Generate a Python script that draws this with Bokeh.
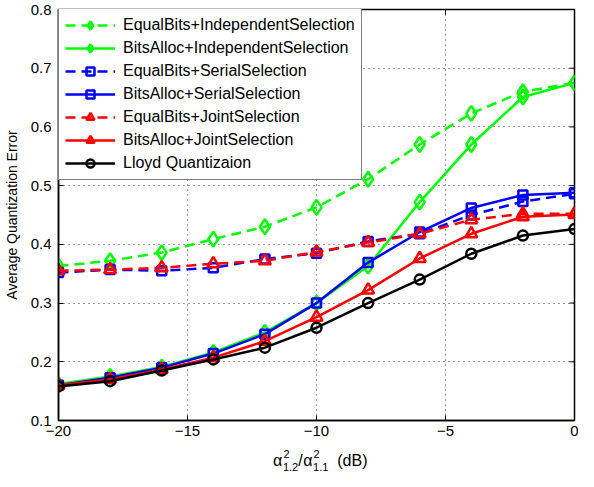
import math
from bokeh.plotting import figure
from bokeh.layouts import column
from bokeh.models import Range1d, FixedTicker, Legend, LegendItem
from bokeh.core.properties import value
from bokeh.embed import file_html
from bokeh.resources import INLINE

# ---- data ----
x_db = [-20, -18, -16, -14, -12, -10, -8, -6, -4, -2, 0]
equal_indep = [0.363, 0.372, 0.386, 0.409, 0.430, 0.463, 0.511, 0.570, 0.623, 0.660, 0.675]
alloc_indep = [0.162, 0.175, 0.191, 0.216, 0.250, 0.300, 0.363, 0.472, 0.570, 0.651, 0.675]
equal_serial = [0.352, 0.357, 0.355, 0.360, 0.375, 0.385, 0.405, 0.418, 0.450, 0.473, 0.486]
alloc_serial = [0.160, 0.173, 0.190, 0.214, 0.247, 0.300, 0.369, 0.421, 0.462, 0.484, 0.488]
equal_joint = [0.355, 0.357, 0.360, 0.367, 0.372, 0.387, 0.403, 0.418, 0.442, 0.452, 0.452]
alloc_joint = [0.160, 0.170, 0.187, 0.207, 0.235, 0.276, 0.322, 0.376, 0.418, 0.447, 0.451]
lloyd = [0.158, 0.167, 0.185, 0.204, 0.224, 0.258, 0.300, 0.340, 0.384, 0.415, 0.426]

x_ticks = [-20, -15, -10, -5, 0]
x_tick_labels = ["\u221220", "\u221215", "\u221210", "\u22125", "0"]
y_ticks = [0.1, 0.2, 0.3, 0.4, 0.5, 0.6, 0.7, 0.8]

series = [
    ("EqualBits+IndependentSelection", equal_indep, "#00ff00", "dashed", "diamond"),
    ("BitsAlloc+IndependentSelection", alloc_indep, "#00ff00", "solid", "diamond"),
    ("EqualBits+SerialSelection", equal_serial, "#0000ff", "dashed", "square"),
    ("BitsAlloc+SerialSelection", alloc_serial, "#0000ff", "solid", "square"),
    ("EqualBits+JointSelection", equal_joint, "#ff0000", "dashed", "triangle"),
    ("BitsAlloc+JointSelection", alloc_joint, "#ff0000", "solid", "triangle"),
    ("Lloyd Quantizaion", lloyd, "#000000", "solid", "circle"),
]
marker_size = {"diamond": 15, "square": 9, "triangle": 12, "circle": 10}

FONT = "Liberation Sans"
W = 578
BL, BR = 52, 4
BT, FRAME_H, BB = 9, 411, 22
H1 = BT + FRAME_H + BB          # main figure height
H2 = 471 - H1                   # strip holding the x-axis title
X0, X1, Y0, Y1 = -20, 0, 0.1, 0.8

p = figure(width=W, height=H1, output_backend="svg", toolbar_location=None,
           x_range=Range1d(X0, X1), y_range=Range1d(Y0, Y1),
           min_border_left=BL, min_border_right=BR, min_border_top=BT,
           min_border_bottom=BB, background_fill_color="white",
           border_fill_color="white")
p.outline_line_color = "black"
p.outline_line_width = 1.5

xt = FixedTicker(ticks=x_ticks)
yt = FixedTicker(ticks=y_ticks)

for ax in (p.xaxis[0], p.yaxis[0]):
    ax.major_tick_in = 5
    ax.major_tick_out = 0
    ax.minor_tick_line_color = None
    ax.axis_line_color = "black"
    ax.axis_line_width = 1.5
    ax.major_tick_line_width = 1
    ax.major_label_text_font = FONT
    ax.major_label_text_font_size = "15px"
    ax.major_label_text_color = "black"
    ax.major_label_standoff = 7

p.xaxis[0].ticker = xt
p.xaxis[0].major_label_overrides = dict(zip(x_ticks, x_tick_labels))
p.xaxis[0].major_label_standoff = 5
p.yaxis[0].ticker = yt
p.yaxis[0].axis_label = "Average Quantization Error"
p.yaxis[0].axis_label_text_font = FONT
p.yaxis[0].axis_label_text_font_size = "14px"
p.yaxis[0].axis_label_text_font_style = "normal"
p.yaxis[0].axis_label_text_color = "black"
p.yaxis[0].axis_label_standoff = 8

for g, tk in ((p.xgrid[0], xt), (p.ygrid[0], yt)):
    g.ticker = tk
    g.grid_line_color = "#333333"
    g.grid_line_dash = "1 4"
    g.grid_line_width = 1

# inward ticks on the top and right edges of the box
p.scatter(x_ticks, [Y1] * len(x_ticks), marker="dash", angle=math.pi / 2,
          size=10, line_color="black", line_width=1)
p.scatter([X1] * len(y_ticks), y_ticks, marker="dash", size=10,
          line_color="black", line_width=1)

items = []
for name, ys, col, dash, mk in series:
    r1 = p.line(x_db, ys, line_color=col, line_width=2.5,
                line_dash=("10 6" if dash == "dashed" else "solid"))
    r2 = p.scatter(x_db, ys, marker=mk, size=marker_size[mk], fill_color=None,
                   line_color=col, line_width=2.5)
    items.append(LegendItem(label=name, renderers=[r1, r2]))

leg_h = 2 * 6 + 7 * 20 + 6 * 3
legend = Legend(items=items, location=(0, FRAME_H - leg_h - 1),
                label_text_font=FONT, label_text_font_size="16px",
                label_text_color="black", glyph_width=50, glyph_height=20,
                label_height=20, label_standoff=8, spacing=3, padding=6,
                border_line_color="black", border_line_width=1.5,
                background_fill_color="white", background_fill_alpha=1.0,
                margin=0)
p.add_layout(legend, "center")

# ---- strip below: x-axis title alpha^2_{1,2}/alpha^2_{1,1} (dB) ----
p2 = figure(width=W, height=H2, output_backend="svg", toolbar_location=None,
            x_range=Range1d(X0, X1), y_range=Range1d(0, H2),
            x_axis_type=None, y_axis_type=None,
            min_border_left=BL, min_border_right=BR, min_border_top=0,
            min_border_bottom=0, outline_line_color=None,
            background_fill_color="white", border_fill_color="white")
p2.xgrid.visible = False
p2.ygrid.visible = False

frame_w = W - BL - BR
strip_bottom = 8 + H1 + H2      # page pixel of the strip's bottom edge

# (text, page x of left edge, page y of baseline, font size)
pieces = [
    ("\u03b1", 277, 468, "16px"),
    ("2", 287.5, 461, "11px"),
    ("1,2", 287, 474, "11px"),
    ("/", 302.5, 468, "16px"),
    ("\u03b1", 307.5, 468, "16px"),
    ("2", 318, 461, "11px"),
    ("1,1", 317.5, 474, "11px"),
    ("(dB)", 342, 468, "16px"),
]
for txt, sx, sy, fs in pieces:
    dx = X0 + (sx - 8 - BL) / frame_w * (X1 - X0)
    dy = strip_bottom - sy
    p2.text(x=[dx], y=[dy], text=[txt], text_font=value(FONT),
            text_font_size=value(fs), text_color="black",
            text_align="left", text_baseline="alphabetic")

layout = column(p, p2, spacing=0)
open("out.html", "w").write(file_html(layout, INLINE))
